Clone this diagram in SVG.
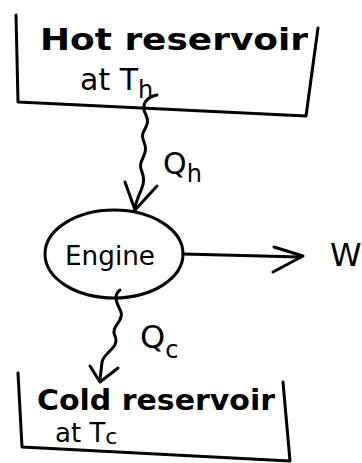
<svg xmlns="http://www.w3.org/2000/svg" width="362" height="463" viewBox="0 0 362 463">
<style>
.ln{fill:none;stroke:#000;stroke-width:3;stroke-linecap:round;stroke-linejoin:round}
.t{font-family:"DejaVu Sans","Liberation Sans",sans-serif;fill:#000}
</style>
<rect width="362" height="463" fill="#fff"/>
<g id="hot">
<path class="ln" d="M16,15 L18,102 L306,116 L318,28"/>
<text class="t" x="40" y="50" font-size="30" font-weight="bold" textLength="268" lengthAdjust="spacingAndGlyphs">Hot reservoir</text>
<text class="t" x="80" y="90" font-size="30">at  T<tspan font-size="24" dy="8">h</tspan></text>
</g>
<g id="engine">
<ellipse class="ln" cx="114" cy="254" rx="69" ry="44"/>
<text class="t" x="65" y="265" font-size="26" textLength="90" lengthAdjust="spacingAndGlyphs">Engine</text>
</g>
<g id="cold">
<path class="ln" d="M18,373 L22,447 L290,461 L283,382"/>
<text class="t" x="37" y="410" font-size="28" font-weight="bold" textLength="238" lengthAdjust="spacingAndGlyphs">Cold reservoir</text>
<text class="t" x="55" y="442" font-size="26">at  T<tspan font-size="22" dy="2">c</tspan></text>
</g>
<g id="connectors">
<path class="ln" d="M157,95 C147,97 140,104 146,115 C152,128 138,130 144,142 C150,156 136,160 142,172 C148,186 135,196 135,210"/>
<path class="ln" d="M125,182 L135,210 L157,186"/>
<path class="ln" d="M183,254 L300,257"/>
<path class="ln" d="M274,247 L303,256 L273,272"/>
<path class="ln" d="M120,290 C112,296 118,305 121,312 C124,322 110,326 115,336 C120,348 104,352 102,362 L100,380"/>
<path class="ln" d="M90,366 L100,382 L118,368"/>
</g>
<g id="labels">
<text class="t" x="163" y="174" font-size="30">Q<tspan font-size="24" dy="8">h</tspan></text>
<text class="t" x="140" y="348" font-size="32">Q<tspan font-size="24" dy="10">c</tspan></text>
<text class="t" x="330" y="266" font-size="32">W</text>
</g>
</svg>
